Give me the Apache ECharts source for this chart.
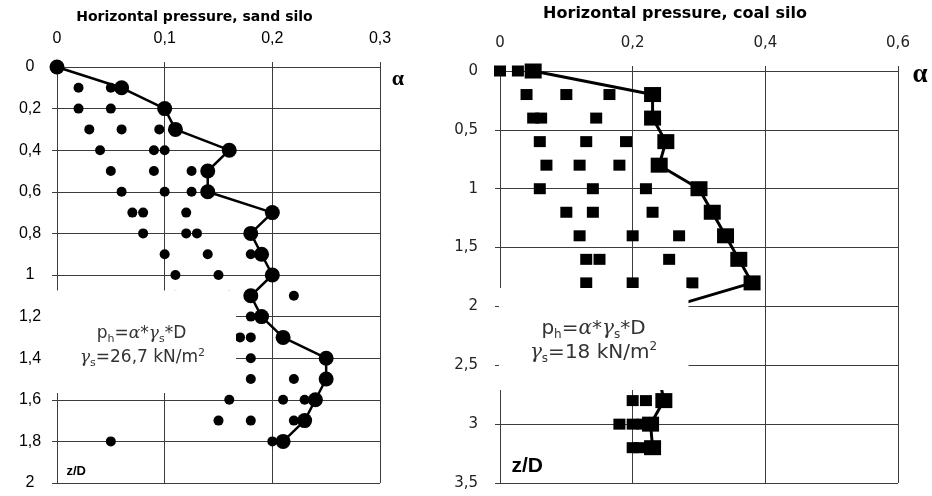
<!DOCTYPE html>
<html><head><meta charset="utf-8">
<script src="https://cdn.jsdelivr.net/npm/echarts@6/dist/echarts.min.js"></script>
<style>html,body{margin:0;padding:0;background:#fff}#c{width:932px;height:496px}</style>
</head><body><div id="c"></div>
<script>
// ---- data ----
const sandTitle = 'Horizontal pressure, sand silo';
const coalTitle = 'Horizontal pressure, coal silo';
const sandXTicks = [0, 0.1, 0.2, 0.3];
const sandYTicks = [0, 0.2, 0.4, 0.6, 0.8, 1, 1.2, 1.4, 1.6, 1.8, 2];
const coalXTicks = [0, 0.2, 0.4, 0.6];
const coalYTicks = [0, 0.5, 1, 1.5, 2, 2.5, 3, 3.5];

const sandZ = [0,0.1,0.2,0.3,0.4,0.5,0.6,0.7,0.8,0.9,1.0,1.1,1.2,1.3,1.4,1.5,1.6,1.7,1.8];
const sandAlpha = [0,0.06,0.10,0.11,0.16,0.14,0.14,0.20,0.18,0.19,0.20,0.18,0.19,0.21,0.25,0.25,0.24,0.23,0.21];
const sandPointZ = [0.1,0.1, 0.2,0.2, 0.3,0.3,0.3, 0.4,0.4,0.4, 0.5,0.5,0.5, 0.6,0.6,0.6, 0.7,0.7,0.7, 0.8,0.8,0.8, 0.9,0.9,0.9, 1.0,1.0, 1.1,1.1,1.1, 1.2, 1.3,1.3, 1.4, 1.5,1.5, 1.6,1.6,1.6, 1.7,1.7,1.7, 1.8,1.8];
const sandPointAlpha = [0.02,0.05, 0.02,0.05, 0.03,0.06,0.095, 0.04,0.09,0.10, 0.05,0.09,0.125, 0.06,0.10,0.125, 0.07,0.08,0.12, 0.08,0.12,0.13, 0.10,0.14,0.18, 0.11,0.15, 0.11,0.16,0.22, 0.18, 0.17,0.18, 0.18, 0.18,0.22, 0.16,0.21,0.23, 0.15,0.18,0.22, 0.05,0.20];

const coalZ = [0,0.2,0.4,0.6,0.8,1.0,1.2,1.4,1.6,1.8,2.0,2.6,2.8,3.0,3.2];
const coalAlpha = [0.05,0.23,0.23,0.25,0.24,0.30,0.32,0.34,0.36,0.38,0.26,0.24,0.247,0.227,0.23];
const coalPointZ = [0,0, 0.2,0.2,0.2, 0.4,0.4,0.4, 0.6,0.6,0.6, 0.8,0.8,0.8, 1.0,1.0,1.0, 1.2,1.2,1.2, 1.4,1.4,1.4, 1.6,1.6,1.6, 1.8,1.8,1.8, 2.8,2.8, 3.0,3.0,3.0, 3.2,3.2];
const coalPointAlpha = [0,0.027, 0.04,0.10,0.165, 0.05,0.062,0.145, 0.06,0.13,0.19, 0.07,0.12,0.18, 0.06,0.14,0.22, 0.10,0.14,0.23, 0.12,0.20,0.27, 0.13,0.15,0.255, 0.13,0.20,0.29, 0.20,0.22, 0.18,0.20,0.215, 0.20,0.21];

// ---- helpers ----
const pairs = (xs, ys) => xs.map((x, i) => [x, ys[i]]);
const fmt = v => String(+(+v).toFixed(3)).replace('.', ',');
const step = t => +(t[1] - t[0]).toFixed(6);
const GRID = '#3c3c3c';

function xAxisOf(gi, ticks, font, size, color, margin) {
  return {
    gridIndex: gi, type: 'value', position: 'top',
    min: ticks[0], max: ticks[ticks.length - 1], interval: step(ticks),
    axisLine: { show: true, onZero: false, lineStyle: { color: GRID, width: 1 } },
    axisTick: { show: true, length: 5, lineStyle: { color: GRID } },
    splitLine: { show: true, lineStyle: { color: GRID, width: 1 } },
    axisLabel: { formatter: fmt, fontFamily: font, fontSize: size, color: color, margin: margin }
  };
}
function yAxisOf(gi, ticks, font, size, color, margin, align) {
  return {
    gridIndex: gi, type: 'value', inverse: true,
    min: ticks[0], max: ticks[ticks.length - 1], interval: step(ticks),
    axisLine: { show: true, onZero: false, lineStyle: { color: GRID, width: 1 } },
    axisTick: { show: true, length: 5, lineStyle: { color: GRID } },
    splitLine: { show: true, lineStyle: { color: GRID, width: 1 } },
    axisLabel: { formatter: fmt, fontFamily: font, fontSize: size, color: color, margin: margin, align: align }
  };
}

function boxText(x, y, size, txt) {
  return {
    type: 'text', z: 101, x: x, y: y,
    style: {
      text: txt, textAlign: 'center', textVerticalAlign: 'middle',
      rich: {
        n: { fontSize: size, fontFamily: 'DejaVu Sans', fill: '#333', lineHeight: size + 4, verticalAlign: 'middle' },
        g: { fontSize: size, fontFamily: 'DejaVu Serif', fontStyle: 'italic', fill: '#333', lineHeight: size + 4, verticalAlign: 'middle' },
        sub: { fontSize: Math.round(size * 0.62), fontFamily: 'DejaVu Sans', fill: '#333', verticalAlign: 'bottom', lineHeight: size + 4 },
        sup: { fontSize: Math.round(size * 0.62), fontFamily: 'DejaVu Sans', fill: '#333', verticalAlign: 'top', lineHeight: size + 4 }
      }
    }
  };
}

const chart = echarts.init(document.getElementById('c'), null, { renderer: 'canvas' });
chart.setOption({
  animation: false,
  backgroundColor: '#fff',
  grid: [
    { left: 57, top: 67, width: 323, height: 416 },
    { left: 500, top: 71, width: 398, height: 412 }
  ],
  xAxis: [
    xAxisOf(0, sandXTicks, 'Liberation Sans', 16, '#000', 20),
    xAxisOf(1, coalXTicks, 'DejaVu Sans', 15, '#222', 20)
  ],
  yAxis: [
    yAxisOf(0, sandYTicks, 'Liberation Sans', 16, '#000', 27, 'center'),
    yAxisOf(1, coalYTicks, 'DejaVu Sans', 15, '#222', 22, 'right')
  ],
  series: [
    { type: 'scatter', xAxisIndex: 0, yAxisIndex: 0, data: pairs(sandPointAlpha, sandPointZ),
      symbol: 'circle', symbolSize: 10, itemStyle: { color: '#000', opacity: 1 }, z: 3 },
    { type: 'line', xAxisIndex: 0, yAxisIndex: 0, data: pairs(sandAlpha, sandZ),
      symbol: 'circle', symbolSize: 15, showAllSymbol: true,
      itemStyle: { color: '#000', opacity: 1 }, lineStyle: { color: '#000', width: 2.5 }, z: 4 },
    { type: 'scatter', xAxisIndex: 1, yAxisIndex: 1, data: pairs(coalPointAlpha, coalPointZ),
      symbol: 'rect', symbolSize: [12, 11], itemStyle: { color: '#000', opacity: 1 }, z: 3 },
    { type: 'line', xAxisIndex: 1, yAxisIndex: 1, data: pairs(coalAlpha, coalZ),
      symbol: 'rect', symbolSize: [17, 15], showAllSymbol: true,
      itemStyle: { color: '#000', opacity: 1 }, lineStyle: { color: '#000', width: 3 }, z: 4 }
  ],
  graphic: [
    { type: 'text', z: 101, x: 194.5, y: 17, style: { text: sandTitle, textAlign: 'center', textVerticalAlign: 'middle', font: 'bold 14px "DejaVu Sans"', fill: '#000' } },
    { type: 'text', z: 101, x: 675, y: 13.5, style: { text: coalTitle, textAlign: 'center', textVerticalAlign: 'middle', font: 'bold 16px "DejaVu Sans"', fill: '#000' } },
    { type: 'text', z: 101, x: 398, y: 79, style: { text: 'α', textAlign: 'center', textVerticalAlign: 'middle', font: 'bold 22px "Liberation Serif"', fill: '#000' } },
    { type: 'text', z: 101, x: 920, y: 75, style: { text: 'α', textAlign: 'center', textVerticalAlign: 'middle', font: 'bold 27px "Liberation Serif"', fill: '#000' } },
    { type: 'rect', z: 100, shape: { x: 49, y: 290.5, width: 187, height: 102.5 }, style: { fill: '#fff' } },
    { type: 'rect', z: 100, shape: { x: 499, y: 288, width: 189.5, height: 102 }, style: { fill: '#fff' } },
    boxText(141.5, 334, 17, '{n|p}{sub|h}{n|=}{g|α}{n|*}{g|γ}{sub|s}{n|*D}'),
    boxText(142.5, 358, 17, '{g|γ}{sub|s}{n|=26,7 kN/m}{sup|2}'),
    boxText(593.5, 329, 20, '{n|p}{sub|h}{n|=}{g|α}{n|*}{g|γ}{sub|s}{n|*D}'),
    boxText(593.5, 352.5, 20, '{g|γ}{sub|s}{n|=18 kN/m}{sup|2}'),
    { type: 'text', z: 101, x: 66.5, y: 471, style: { text: 'z/D', textAlign: 'left', textVerticalAlign: 'middle', font: 'bold 13px "Liberation Sans"', fill: '#000' } },
    { type: 'text', z: 101, x: 511.5, y: 466, style: { text: 'z/D', textAlign: 'left', textVerticalAlign: 'middle', font: 'bold 21px "Liberation Sans"', fill: '#000' } }
  ]
});
</script>
</body></html>
